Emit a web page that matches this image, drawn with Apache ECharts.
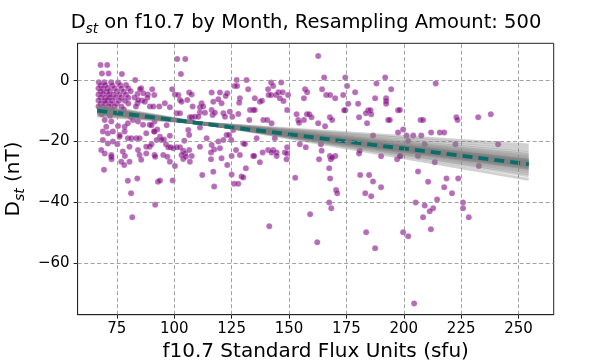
<!DOCTYPE html>
<html>
<head>
<meta charset="utf-8">
<script src="https://cdn.jsdelivr.net/npm/echarts@6/dist/echarts.min.js"></script>
<style>html,body{margin:0;padding:0;background:#fff}#c{width:612px;height:360px}</style>
</head>
<body>
<div id="c"></div>
<script>
// ---- data ----
const xTicks = [75, 100, 125, 150, 175, 200, 225, 250];
const yTicks = [-60, -40, -20, 0];
const xRange = [57.9, 265.3];
const yRange = [-76.9, 12.3];

// scatter: [f10.7 (sfu), Dst (nT)]
const pointsLow = [
 [67.9,5.2],[70.8,5.2],[68.5,2.4],[71.4,2.4],[77.2,2.2],[83,0.2],[67.1,-0.5],
 [69.5,-0.5],[72.5,-0.5],[75.5,-0.6],
 [68,-1.5],[70,-1.4],[73,-1.6],[76.5,-1.5],[79,-1.4],
 [67,-2.5],[69,-2.6],[71,-2.4],[74,-2.5],[77,-2.6],[80,-2.5],[85.6,-2.5],
 [68,-3.5],[70.5,-3.6],[72,-3.4],[75,-3.5],[78,-3.6],[81,-3.5],
 [67,-4.5],[69,-4.4],[71.5,-4.6],[73.5,-4.5],[76,-4.5],[79,-4.6],[84,-4.4],[88.5,-4.5],
 [68,-5.5],[70,-5.6],[72,-5.4],[74.5,-5.5],[77,-5.5],[80,-5.6],[82.7,-5.5],
 [67,-6.5],[69.5,-6.6],[71,-6.4],[73,-6.5],[76,-6.5],[78.5,-6.6],[86,-6.5],
 [68,-7.5],[70,-7.4],[72.5,-7.6],[75,-7.5],[80,-7.5],[84,-7.4],
 [67,-8.5],[69,-8.6],[71.5,-8.4],[74,-8.5],[77,-8.5],
 [70,-9.5],[73,-9.6],[78,-9.4],
 [85.1,-2.8],[86.5,-4.1],[88.3,-5.6],[84.3,-6.3],[87.2,-6.9],[83.3,-8.5],
 [68.5,-11],[72,-11.5],[76,-10.5],[81,-11.8],
 [69.7,-12.9],[72.6,-13.4],[70.4,-15.1],[75.5,-14.9],[78.4,-15.1],[79.8,-14.0],[82.0,-12.9],[84.2,-13.4],[86.4,-14.5],[89.3,-14.5],[91.4,-13.4],
 [68.9,-16.7],[71.1,-17.3],[73.3,-16.7],[76.2,-17.8],[78.4,-16.7],[79.8,-18.9],[81.3,-18.9],[83.4,-18.9],[84.9,-18.9],[87.8,-17.3],[91.4,-16.7],
 [68.9,-19.5],[73.3,-20.0],[71.1,-20.6],[75.2,-20.9],[76.2,-18.4],[68.2,-22.8],[69.7,-23.9],[72.6,-24.4],[77.6,-23.3],[80.5,-21.7],
 [84.2,-22.8],[84.9,-24.4],[87.8,-21.7],[89.3,-21.7],[87.8,-23.9],[91.4,-24.4],[72.6,-25.0],[76.9,-26.6],[80.5,-26.6],[85.6,-26.0],
 [79.8,-32.9],[83.9,-32.1],[92.9,-33.2],[69.4,-29.3],
 [72.7,-25.8],[78.5,-24.7],[78.2,-27.7],[81.2,-37.0],[91.7,-40.8],[81.7,-44.9]
];
const pointsMid = [
 [101.3,7.1],[104.8,7.1],[102.9,2.2],[127.2,0.2],[131.5,0.2],[126.3,-1.7],[127.4,-1.7],[132.2,-2.8],[128.6,-5.8],[123.1,-4.1],[122.4,-5.0],
 [119.9,-3.9],[120.6,-7.4],[117.0,-6.9],[116.3,-3.9],[119.2,-6.1],[124.2,-10.2],
 [90.4,-2.8],[91.3,-4.7],[89.4,-8.5],[90.9,-8.5],[93.5,-8.5],[95.9,-7.4],[98.1,-8.7],[99.1,-2.8],[100.3,-4.5],[101.8,-4.7],[102.5,-6.3],
 [103.2,-6.9],[106.5,-3.9],[107.6,-4.5],[105.7,-6.3],[108.0,-8.5],[111.2,-8.7],[111.9,-7.4],[112.6,-8.5],[111.2,-10.4],[113.4,-10.5],
 [116.3,-9.6],[116.7,-11.3],[117.7,-10.5],[121.4,-10.7],[122.1,-11.8],[125.3,-11.8],[127.9,-10.9],[128.3,-7.2],[133.0,-9.6],[134.4,-9.6],[132.7,-12.9],
 [101.0,-10.7],[102.5,-10.7],[106.8,-12.0],[107.6,-12.0],[109.0,-11.8],[110.5,-11.8],
 [96.7,-14.6],[90.1,-14.6],[92.6,-16.0],[91.2,-16.7],[93.8,-18.4],[95.5,-19.3],[98.1,-18.1],[92.3,-19.5],[94.5,-19.5],[96.4,-20.9],
 [97.4,-21.9],[98.4,-21.9],[99.6,-22.2],[101.0,-21.9],[102.5,-21.9],[103.9,-23.0],[104.7,-23.9],[103.2,-24.4],[106.5,-22.8],[107.6,-24.7],
 [103.9,-25.7],[106.8,-26.6],[105.1,-25.0],[98.1,-26.6],[100.3,-28.0],[91.7,-25.0],[95.2,-24.4],[97.0,-25.0],
 [106.1,-16.2],[106.5,-17.8],[104.4,-19.7],[111.2,-21.7],[114.1,-18.9],[116.3,-21.1],[117.4,-22.6],[119.9,-22.2],[119.2,-20.0],[121.4,-19.5],
 [122.8,-17.8],[123.9,-17.8],[125.7,-16.2],[124.8,-19.5],[126.9,-22.8],[128.6,-24.4],[130.1,-20.6],[130.8,-20.8],[111.2,-15.4],
 [116.0,-23.6],[120.6,-25.5],[125.0,-24.7],[116.0,-25.8],[117.0,-29.9],[123.1,-27.7],[125.0,-30.8],[129.3,-31.5],[130.1,-31.8],[126.1,-33.9],
 [127.9,-33.9],[131.2,-28.8],[112.2,-31.0],[93.8,-32.8],[99.3,-32.8],[117.4,-34.8],[134.4,-24.7],[90.1,-20.9]
];
const pointsHigh = [
 [162.7,8.1],[165.3,1.1],[174.5,1.1],[191.9,1.1],[175.3,-1.7],[188.1,-0.9],[194.5,-2.8],[142.2,-0.6],[143.1,-1.7],[146.6,-0.6],[140.9,-2.8],
 [135.1,-5.8],[137.3,-6.9],[138.2,-6.6],[141.1,-4.7],[142.2,-4.7],[144.3,-4.7],[145.4,-3.8],[147.2,-3.8],[146.0,-5.8],[147.6,-6.7],[149.6,-4.7],
 [157.0,-2.8],[157.9,-3.8],[156.5,-5.8],[164.4,-2.8],[166.2,-4.7],[167.9,-4.7],[170.1,-5.8],[173.6,-4.7],[174.0,-9.7],[174.5,-9.7],
 [178.8,-3.8],[175.8,-7.6],[180.1,-7.6],[187.5,-5.8],[192.3,-5.8],[192.3,-6.7],[192.3,-7.6],[197.5,-9.7],
 [184.5,-9.7],[185.5,-9.7],[183.5,-10.7],[185.8,-11.0],[184.0,-14.0],[180.5,-12.0],[193.2,-12.9],[193.9,-12.9],[197.5,-17.0],[186.6,-18.0],
 [135.1,-9.6],[138.8,-12.9],[140.5,-12.9],[142.4,-14.0],[149.2,-9.6],[153.3,-11.0],[154.0,-12.9],[154.4,-13.8],[156.5,-12.9],[157.8,-11.0],[158.8,-11.0],[159.8,-12.0],
 [162.7,-14.0],[165.7,-15.0],[167.8,-12.0],[168.8,-12.9],
 [135.9,-18.9],[140.9,-22.8],[143.1,-22.8],[142.4,-23.6],[144.6,-23.6],[148.2,-23.6],[149.2,-21.9],[138.5,-23.6],[143.8,-18.9],[154.7,-20.9],
 [157.3,-21.9],[163.9,-20.9],[152.7,-31.9],[137.3,-26.8],[148.9,-25.8],[134.8,-24.7],[144.6,-24.7],[149.2,-23.9],
 [163.1,-25.8],[164.2,-23.0],[167.8,-24.7],[168.2,-25.8],[170.2,-24.7],[168.8,-25.2],[167.5,-28.8],[167.9,-32.1],[170.5,-35.9],[171.0,-37.0],
 [167.5,-40.0],[168.4,-41.9],[159.2,-43.9],[141.4,-47.8],[162.3,-53.1],[180.5,-23.9],[180.8,-23.0],[181.0,-31.0],[184.9,-31.0],[186.6,-33.1],
 [183.2,-37.0],[185.8,-38.0],[190.1,-35.0],[190.1,-24.8],[197.1,-25.8],[198.5,-24.7],[183.6,-49.8],[187.5,-55.1],
 [213.9,-0.9],[207.3,-12.9],[208.4,-12.9],[222.9,-12.0],[223.4,-12.9],[232.4,-12.0],[237.9,-11.0],[199.7,-16.0],[201.2,-18.0],[204.1,-18.0],
 [207.6,-18.0],[201.9,-19.8],[211.9,-17.0],[215.7,-17.0],[217.6,-17.0],[222.5,-20.9],[241.1,-20.9],[209.1,-20.9],[198.3,-9.6],[198.3,-24.7],
 [206.2,-24.7],[213.5,-26.8],[232.7,-28.0],[206.2,-29.8],
 [210.6,-33.2],[218.6,-32.1],[223.7,-32.1],[217.6,-35.0],[221.0,-37.0],[214.5,-39.0],[205.2,-40.0],[209.1,-41.0],[212.8,-41.9],[211.3,-42.9],
 [208.4,-44.9],[225.8,-40.0],[225.8,-41.9],[228.3,-44.9],[211.8,-48.8],[199.7,-49.8],[201.9,-51.1],[204.5,-73.2]
];

const fitX = [66.5, 254.4];
const bootStartY = [-8.0,-8.4,-8.7,-8.8,-9.0,-9.1,-9.3,-9.3,-9.5,-9.5,-9.6,-9.6,-9.7,-9.7,-9.8,-9.8,-9.8,-9.9,-9.9,-10.0,-10.0,-10.1,-10.2,-10.2,-10.3,-10.4,-10.5,-10.6,-10.8,-11.0,-11.3,-11.6,-9.6,-10.0,-9.4,-10.3,-9.7,-9.9,-9.8,-10.1,-9.5,-10.2,-9.7,-10.0];
const bootEndY   = [-32.4,-31.3,-30.6,-30.1,-29.6,-29.2,-28.9,-28.6,-28.3,-28.1,-27.9,-27.7,-27.6,-27.5,-27.4,-27.3,-27.2,-27.0,-26.9,-26.7,-26.5,-26.3,-26.0,-25.7,-25.4,-25.0,-24.6,-24.2,-23.6,-22.9,-22.0,-21.1,-27.8,-26.8,-28.4,-26.1,-27.5,-27.1,-28.0,-26.6,-28.7,-26.2,-27.6,-27.0];
const meanFitY = [-9.8, -27.4];

// ---- chart ----
const FONT = 'DejaVu Sans';
const minus = v => String(v).replace('-', '\u2212');

const series = [];
// grid lines (behind everything)
series.push({
  type: 'line', data: [], z: 0, silent: true, animation: false,
  markLine: {
    silent: true, symbol: ['none', 'none'], animation: false,
    label: { show: false },
    lineStyle: { color: '#8a8a8a', type: [4, 2.5], width: 0.8 },
    data: xTicks.map(v => ({ xAxis: v })).concat(yTicks.map(v => ({ yAxis: v })))
  }
});
// scatter
series.push({
  type: 'scatter', z: 2, animation: false, symbolSize: 6,
  data: pointsLow.concat(pointsMid, pointsHigh),
  itemStyle: { color: 'rgba(128,0,128,0.72)', borderColor: 'rgba(255,255,255,0.4)', borderWidth: 0.5 }
});
// bootstrap lines
for (let i = 0; i < bootStartY.length; i++) {
  series.push({
    type: 'line', z: 3, animation: false, silent: true, symbol: 'none',
    data: [[fitX[0], bootStartY[i]], [fitX[1], bootEndY[i]]],
    lineStyle: { color: 'rgba(128,128,128,0.36)', width: 2.8 }
  });
}
// mean line
series.push({
  type: 'line', z: 4, animation: false, silent: true, symbol: 'none',
  data: [[fitX[0], meanFitY[0]], [fitX[1], meanFitY[1]]],
  lineStyle: { color: '#0a6d6c', width: 3.8, type: [10, 6] }
});

const richTitle = {
  n: { fontFamily: FONT, fontSize: 19.5, fontWeight: 'normal', color: '#000', lineHeight: 26, verticalAlign: 'middle' },
  s: { fontFamily: FONT, fontSize: 13.5, fontWeight: 'normal', fontStyle: 'italic', color: '#000', lineHeight: 26, verticalAlign: 'bottom', padding: [9, 0, 0, 0] }
};
const richName = {
  n: { fontFamily: FONT, fontSize: 20, fontWeight: 'normal', color: '#000', lineHeight: 26, verticalAlign: 'middle' },
  s: { fontFamily: FONT, fontSize: 14, fontWeight: 'normal', fontStyle: 'italic', color: '#000', lineHeight: 26, verticalAlign: 'bottom', padding: [9, 0, 0, 0] }
};

const chart = echarts.init(document.getElementById('c'), null, { renderer: 'canvas' });
chart.setOption({
  animation: false,
  backgroundColor: '#fff',
  title: {
    text: '{n|D}{s|st}{n| on f10.7 by Month, Resampling Amount: 500}',
    left: 'center', top: 5,
    textStyle: { fontWeight: 'normal', rich: richTitle }
  },
  grid: { left: 77.6, right: 58.3, top: 43.3, bottom: 45.3, outerBoundsMode: 'none', containLabel: false,
          show: true, borderColor: '#222', borderWidth: 1, backgroundColor: 'transparent' },
  xAxis: {
    type: 'value', min: xRange[0], max: xRange[1],
    name: 'f10.7 Standard Flux Units (sfu)', nameLocation: 'middle', nameGap: 25,
    nameTextStyle: { fontFamily: FONT, fontSize: 20, color: '#000' },
    axisLine: { show: true, onZero: false, lineStyle: { color: '#222', width: 1 } },
    axisTick: { show: true, customValues: xTicks, length: 4, lineStyle: { color: '#222' } },
    axisLabel: { customValues: xTicks, fontFamily: FONT, fontSize: 15, color: '#000', margin: 7, formatter: v => minus(v) },
    splitLine: { show: false }
  },
  yAxis: {
    type: 'value', min: yRange[0], max: yRange[1],
    name: '{n|D}{s|st}{n| (nT)}', nameLocation: 'middle', nameGap: 47, nameRotate: 90,
    nameTextStyle: { fontWeight: 'normal', rich: richName },
    axisLine: { show: true, onZero: false, lineStyle: { color: '#222', width: 1 } },
    axisTick: { show: true, customValues: yTicks, length: 4, lineStyle: { color: '#222' } },
    axisLabel: { customValues: yTicks, fontFamily: FONT, fontSize: 15, color: '#000', margin: 8, formatter: v => minus(v) },
    splitLine: { show: false }
  },
  series: series
});
</script>
</body>
</html>
